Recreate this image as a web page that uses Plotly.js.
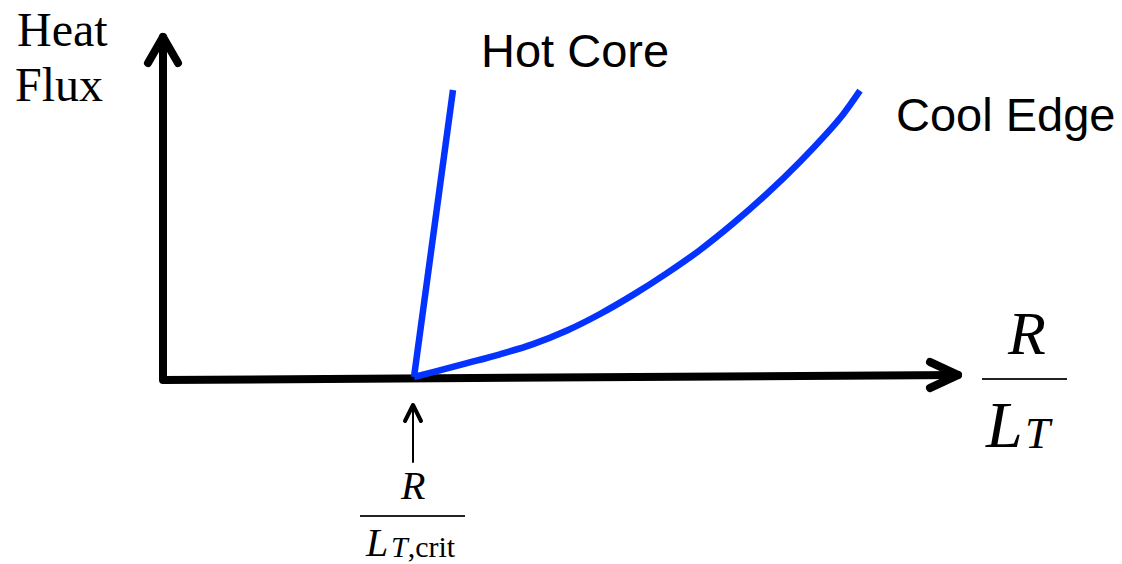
<!DOCTYPE html>
<html>
<head>
<meta charset="utf-8">
<script src="https://cdn.plot.ly/plotly-3.0.1.min.js"></script>
<style>
  html, body { margin: 0; padding: 0; background: #ffffff; }
  #chart { width: 1122px; height: 564px; }
</style>
</head>
<body>
<div id="chart"></div>
<script>
// Schematic of turbulent heat flux versus normalised temperature gradient R/L_T.
// Both branches leave the horizontal axis at the critical gradient.
const criticalGradient = 2.51;

// Hot core: stiff, almost vertical rise above threshold
const hotCoreX = [2.51, 2.90];
const hotCoreY = [0.03, 2.90];

// Cool edge: gentle, curving rise above threshold
const coolEdgeX = [2.51, 2.70, 3.04, 3.37, 3.70, 4.04, 4.37, 4.70, 5.04, 5.37, 5.70, 6.04, 6.37, 6.64, 6.80, 6.97];
const coolEdgeY = [0.03, 0.079, 0.168, 0.257, 0.359, 0.495, 0.660, 0.851, 1.069, 1.300, 1.564, 1.863, 2.183, 2.469, 2.656, 2.894];

// Axis extents (R/L_T to the right, heat flux upward)
const xAxisEnd = 7.95;
const yAxisEnd = 3.43;

const curveBlue = '#0433ff';
const serif = 'Liberation Serif, Times New Roman, serif';
const sans = 'Liberation Sans, Arial, sans-serif';

// Axes with open chevron arrowheads
const axesX = [0, 0, xAxisEnd, null, -0.15, 0, 0.15, null, xAxisEnd - 0.28, xAxisEnd, xAxisEnd - 0.28];
const axesY = [yAxisEnd, 0, 0.05, null, yAxisEnd - 0.26, yAxisEnd, yAxisEnd - 0.26, null, 0.18, 0.05, -0.08];

// Marker arrow pointing up at the critical gradient
const markerTop = -0.25;
const markerBottom = -0.82;

const traces = [
  { x: axesX, y: axesY, mode: 'lines', connectgaps: false,
    line: { color: '#000000', width: 8, simplify: false }, hoverinfo: 'skip' },
  { x: [criticalGradient - 0.01, criticalGradient - 0.01], y: [markerBottom, markerTop], mode: 'lines',
    line: { color: '#000000', width: 2 }, hoverinfo: 'skip' },
  { x: [criticalGradient - 0.09, criticalGradient - 0.01, criticalGradient + 0.07],
    y: [markerTop - 0.16, markerTop, markerTop - 0.16], mode: 'lines',
    line: { color: '#000000', width: 4, simplify: false }, hoverinfo: 'skip' },
  { x: hotCoreX, y: hotCoreY, mode: 'lines', name: 'Hot Core',
    line: { color: curveBlue, width: 6.5 } },
  { x: coolEdgeX, y: coolEdgeY, mode: 'lines', name: 'Cool Edge',
    line: { color: curveBlue, width: 6.5, shape: 'spline', smoothing: 1, simplify: false } }
];

const base = { xref: 'x', yref: 'y', showarrow: false, xanchor: 'center', yanchor: 'middle' };
const txt = (family, size) => ({ family: family, size: size, color: '#000' });

const annotations = [
  { x: -1.01, y: 3.51, text: 'Heat', font: txt(serif, 48) },
  { x: -1.045, y: 2.96, text: 'Flux', font: txt(serif, 48) },
  { x: 4.12, y: 3.295, text: 'Hot Core', font: txt(sans, 47) },
  { x: 8.43, y: 2.655, text: 'Cool Edge', font: txt(sans, 47) },
  // R / L_T beside the horizontal axis
  { x: 8.63, y: 0.47, text: '<i>R</i>', font: txt(serif, 62) },
  { x: 8.62, y: -0.44, xanchor: 'right', text: '<i>L</i>', font: txt(serif, 66) },
  { x: 8.60, y: -0.53, xanchor: 'left', text: '<i>T</i>', font: txt(serif, 45) },
  // R / L_T,crit under the threshold marker
  { x: 2.49, y: -1.05, text: '<i>R</i>', font: txt(serif, 40) },
  { x: 2.265, y: -1.625, xanchor: 'right', text: '<i>L</i>', font: txt(serif, 40) },
  { x: 2.255, y: -1.665, xanchor: 'left', text: '<i>T</i>,crit', font: txt(serif, 30) }
].map(a => Object.assign({}, base, a));

const shapes = [
  { type: 'line', xref: 'x', yref: 'y', x0: 8.19, x1: 9.04, y0: 0.01, y1: 0.01,
    line: { color: '#222222', width: 2 } },
  { type: 'line', xref: 'x', yref: 'y', x0: 1.97, x1: 3.02, y0: -1.36, y1: -1.36,
    line: { color: '#222222', width: 2 } }
];

const layout = {
  width: 1122, height: 564,
  margin: { l: 0, r: 0, t: 0, b: 0 },
  paper_bgcolor: '#ffffff', plot_bgcolor: '#ffffff',
  showlegend: false, hovermode: false,
  xaxis: { range: [-1.63, 9.59], visible: false, fixedrange: true },
  yaxis: { range: [-1.84, 3.80], visible: false, fixedrange: true },
  annotations: annotations,
  shapes: shapes
};

Plotly.newPlot('chart', traces, layout, { displayModeBar: false, staticPlot: true }).then(gd => {
  // Rounded ends on the black axis and marker strokes
  gd.querySelectorAll('.scatterlayer .trace').forEach((g, i) => {
    if (i < 3) {
      g.querySelectorAll('path.js-line').forEach(p => {
        p.style.strokeLinecap = 'round';
        p.style.strokeLinejoin = 'round';
      });
    }
  });
});
</script>
</body>
</html>
